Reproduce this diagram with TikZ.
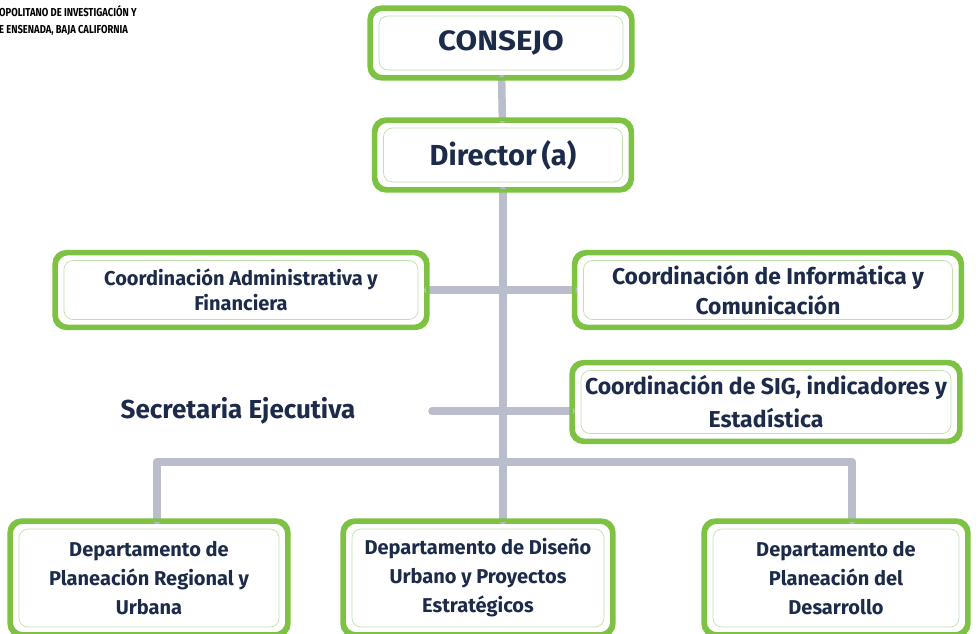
\documentclass[tikz,border=0pt]{standalone}
\usepackage{fontspec}
\setmainfont{Fira Sans}
\newfontfamily\widefont{Fira Sans}[FakeStretch=1.12]
\newfontfamily\headfont{Fira Sans}[FakeStretch=0.82]
\usetikzlibrary{positioning}
\definecolor{boxgreen}{HTML}{7DC242}
\definecolor{linegreen}{HTML}{C2DFAE}
\definecolor{navy}{HTML}{1C2B4A}
\definecolor{conngray}{HTML}{BABDCB}
\tikzset{
  orgbox/.style={ draw=boxgreen, line width=3.6pt, rounded corners=12pt, fill=white,
    text=navy, align=center, inner sep=0pt,
    path picture={\draw[linegreen, line width=0.7pt, rounded corners=9pt]
      ([shift={(8pt,-7pt)}]path picture bounding box.north west) rectangle
      ([shift={(-8pt,7pt)}]path picture bounding box.south east);} }
}
\tikzset{
  conn/.style={ draw=conngray, line width=7.5pt, line cap=round }
}
\tikzset{
  deptxt/.style={ font=\fontsize{20}{29}\selectfont\bfseries }
}

\begin{document}
\begin{tikzpicture}[x=1pt, y=-1pt]
  \useasboundingbox (0,0) rectangle (978,634);
  \clip (0,0) rectangle (978,634);

  \node[anchor=west, text=black, align=left, inner sep=0pt,
        font=\headfont\fontsize{11.5}{17}\selectfont\bfseries] (head) at (-1,21)
        {OPOLITANO DE INVESTIGACIÓN Y\\E ENSENADA, BAJA CALIFORNIA};

  \coordinate (barl) at (157,462);
  \coordinate (barr) at (852,462);
  \coordinate (secend) at (432,411);

  \node[orgbox, font=\widefont\fontsize{28}{32}\selectfont\bfseries, minimum width=260, minimum height=68] (consejo) at (501,43) {CONSEJO};
  \node[orgbox, font=\fontsize{29}{33}\selectfont\bfseries, minimum width=255, minimum height=68] (director) at (503,155) {Director\,(a)};

  \node[orgbox, font=\fontsize{20}{25}\selectfont\bfseries, minimum width=370, minimum height=73] (adm) at (241,290)
        {Coordinación Administrativa y\\Financiera};
  \node[orgbox, font=\fontsize{22.8}{30}\selectfont\bfseries, minimum width=385, minimum height=73] (inf) at (768,290)
        {Coordinación de Informática y\\Comunicación};
  \node[orgbox, font=\fontsize{23}{33}\selectfont\bfseries, minimum width=386, minimum height=77] (sig) at (766,402)
        {Coordinación de SIG, indicadores y\\Estadística};
  \node[text=navy, font=\fontsize{26}{30}\selectfont\bfseries] (secre) at (238,411) {Secretaria Ejecutiva};

  \node[orgbox, deptxt, minimum width=276, minimum height=112] (dep1) at (149,578)
        {Departamento de\\Planeación Regional y\\Urbana};
  \node[orgbox, deptxt, minimum width=268, minimum height=112] (dep2) at (478,578)
        {Departamento de Diseño\\Urbano y Proyectos\\Estratégicos};
  \node[orgbox, deptxt, minimum width=262, minimum height=112] (dep3) at (836,578)
        {Departamento de\\Planeación del\\Desarrollo};

  \draw[conn] (consejo) -- (director);
  \draw[conn] (director) -- (director |- dep2.north);
  \draw[conn] (adm) -- (inf);
  \draw[conn] (secend) -- (sig.west |- secend);
  \draw[conn] (barl) -- (barr);
  \draw[conn] (barl) -- (barl |- dep1.north);
  \draw[conn] (barr) -- (barr |- dep3.north);

  % redraw boxes over the connector ends
  \foreach \b in {consejo,director,adm,inf,sig,dep1,dep2,dep3}
    \draw[boxgreen, line width=3.6pt, rounded corners=12pt] (\b.north west) rectangle (\b.south east);
\end{tikzpicture}
\end{document}
